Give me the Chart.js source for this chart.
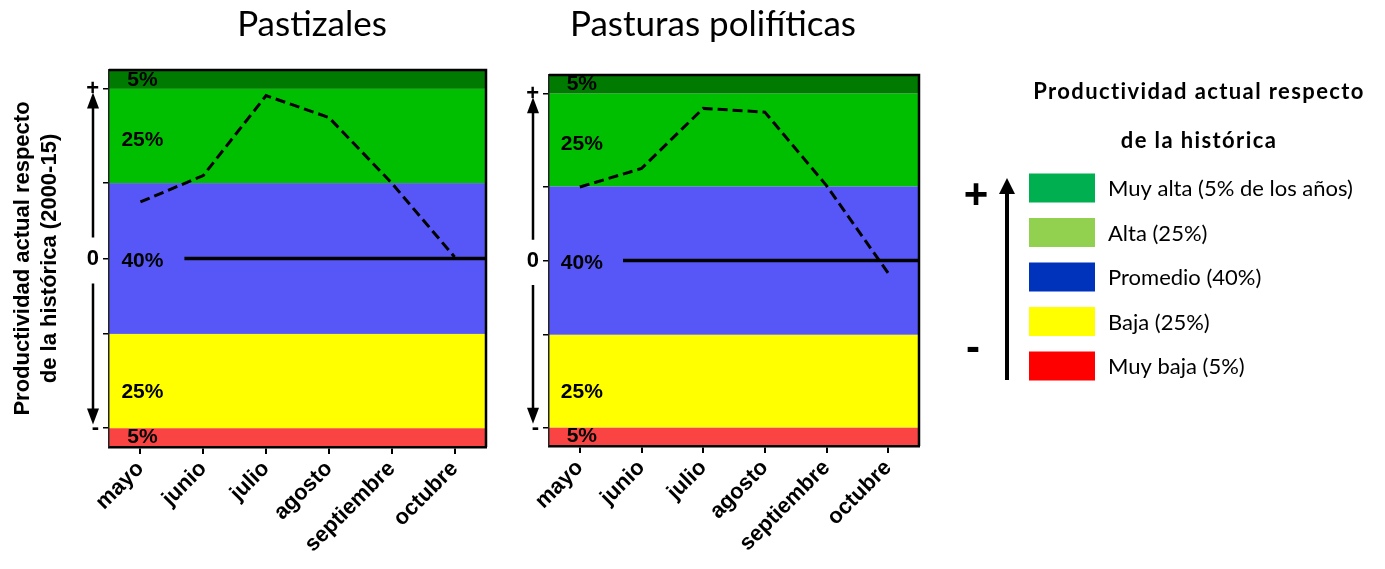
<!DOCTYPE html>
<html>
<head>
<meta charset="utf-8">
<script src="https://cdn.jsdelivr.net/npm/chart.js@4"></script>
<style>
  body { margin: 0; background: #fff; width: 1385px; height: 569px; overflow: hidden; position: relative; }
  canvas { position: absolute; top: 0; }
  #pastizales { left: 0; }
  #polifiticas { left: 500px; }
</style>
</head>
<body>
<canvas id="pastizales" width="500" height="569"></canvas>
<canvas id="polifiticas" width="885" height="569"></canvas>
<script>
// datos
const months = ["mayo", "junio", "julio", "agosto", "septiembre", "octubre"];
const pastizalesValues = [0.75, 1.10, 2.16, 1.87, 1.00, 0.02];
const polifiticasValues = [0.99, 1.24, 2.05, 2.00, 1.01, -0.17];
const zeroLineFrom = 0.7;   // el promedio empieza entre mayo y junio
const zeroLineTo = 5.5;

const bandEdges = [-2.5, -2.25, -1, 1, 2.25, 2.5];
const bandColors = ["#fa4343", "#ffff00", "#5757f7", "#00bf00", "#007a00"];
const bandLabels = ["5%", "25%", "40%", "25%", "5%"];
const bandLabelValues = [-2.37, -1.77, -0.03, 1.57, 2.37];

const yTicks = [-2.25, -1, 0, 1, 2.25];
const yTickLabels = ["-", "", "0", "", "+"];

const legendTitle = ["Productividad actual respecto", "de la histórica"];
const legendLabels = ["Muy alta (5% de los años)", "Alta (25%)", "Promedio (40%)", "Baja (25%)", "Muy baja (5%)"];
const legendColors = ["#00b050", "#92d050", "#0033bb", "#ffff00", "#ff0000"];

const axisFont = { family: "Liberation Sans", size: 22, weight: "bold" };

const bandsPlugin = {
  id: "bands",
  beforeDraw(chart) {
    const { ctx, chartArea: a, scales: { y } } = chart;
    ctx.save();
    for (let i = 0; i < bandColors.length; i++) {
      const y0 = y.getPixelForValue(bandEdges[i]);
      const y1 = y.getPixelForValue(bandEdges[i + 1]);
      ctx.fillStyle = bandColors[i];
      ctx.fillRect(a.left, y1, a.right - a.left, y0 - y1);
    }
    ctx.restore();
  },
  beforeDatasetsDraw(chart) {
    const { ctx, scales: { x, y } } = chart;
    ctx.save();
    ctx.fillStyle = "#000";
    ctx.font = "bold 21px 'Liberation Sans'";
    ctx.textAlign = "center";
    ctx.textBaseline = "middle";
    const lx = x.getPixelForValue(0) + 2;
    bandLabels.forEach((t, i) => ctx.fillText(t, lx, y.getPixelForValue(bandLabelValues[i])));
    ctx.restore();
  },
  afterDraw(chart, args, opts) {
    const { ctx, chartArea: a, scales: { y } } = chart;
    ctx.save();
    // marco superior y derecho
    ctx.strokeStyle = "#000";
    ctx.lineWidth = 2.5;
    ctx.beginPath();
    ctx.moveTo(a.left, a.top);
    ctx.lineTo(a.right, a.top);
    ctx.lineTo(a.right, a.bottom);
    ctx.stroke();

    // flecha doble del eje
    const ax = a.left - 16;
    const top = y.getPixelForValue(2.2);
    const bot = y.getPixelForValue(-2.2);
    ctx.lineWidth = 2.5;
    ctx.beginPath();
    ctx.moveTo(ax, top + 12);
    ctx.lineTo(ax, y.getPixelForValue(0.28));
    ctx.moveTo(ax, y.getPixelForValue(-0.33));
    ctx.lineTo(ax, bot - 12);
    ctx.stroke();
    ctx.fillStyle = "#000";
    ctx.beginPath();
    ctx.moveTo(ax, top); ctx.lineTo(ax - 6, top + 16); ctx.lineTo(ax + 6, top + 16); ctx.closePath();
    ctx.moveTo(ax, bot); ctx.lineTo(ax - 6, bot - 16); ctx.lineTo(ax + 6, bot - 16); ctx.closePath();
    ctx.fill();

    // título del gráfico
    ctx.font = "35px Lato";
    ctx.textAlign = "center";
    ctx.textBaseline = "middle";
    ctx.fillText(opts.title, opts.titleX, 25);
    ctx.restore();
  }
};

const legendPlugin = {
  id: "sideLegend",
  afterDraw(chart) {
    const ctx = chart.ctx;
    const cx = 699;
    ctx.save();
    ctx.fillStyle = "#000";
    ctx.textBaseline = "middle";
    ctx.textAlign = "center";
    ctx.font = "bold 22px Lato";
    ctx.letterSpacing = "1.4px";
    ctx.fillText(legendTitle[0], cx, 92);
    ctx.fillText(legendTitle[1], cx, 141);
    ctx.letterSpacing = "0px";

    ctx.textAlign = "left";
    ctx.font = "22px Lato";
    legendLabels.forEach((t, i) => {
      const yc = 188 + i * 44.5;
      ctx.fillStyle = legendColors[i];
      ctx.fillRect(529, yc - 14.5, 66, 29);
      ctx.fillStyle = "#000";
      ctx.fillText(t, 608, yc + 1);
    });

    // flecha vertical con + y -
    ctx.strokeStyle = "#000";
    ctx.lineWidth = 4;
    ctx.beginPath();
    ctx.moveTo(507, 380);
    ctx.lineTo(507, 190);
    ctx.stroke();
    ctx.beginPath();
    ctx.moveTo(507, 178); ctx.lineTo(499, 194); ctx.lineTo(515, 194); ctx.closePath();
    ctx.fill();
    ctx.font = "bold 42px 'Liberation Sans'";
    ctx.textAlign = "center";
    ctx.fillText("+", 476, 196);
    ctx.fillText("-", 473, 349);
    ctx.restore();
  }
};

function makeChart(id, values, o) {
  return new Chart(document.getElementById(id), {
    type: "line",
    data: {
      labels: months,
      datasets: [
        {
          data: values,
          borderColor: "#000",
          borderWidth: 3,
          borderDash: [10, 5],
          pointRadius: 0,
          fill: false,
          tension: 0
        },
        {
          data: [{ x: zeroLineFrom, y: 0 }, { x: zeroLineTo, y: 0 }],
          xAxisID: "x2",
          borderColor: "#000",
          borderWidth: 3.5,
          pointRadius: 0,
          fill: false
        }
      ]
    },
    options: {
      responsive: false,
      animation: false,
      devicePixelRatio: 1,
      layout: { padding: { top: o.top, right: o.right, left: 0, bottom: 0 } },
      plugins: {
        legend: { display: false },
        tooltip: { enabled: false },
        bands: { title: o.title, titleX: o.titleX }
      },
      scales: {
        x: {
          type: "category",
          offset: true,
          grid: { display: true, drawOnChartArea: false, drawTicks: true, tickLength: 7, color: "#000", lineWidth: 2 },
          border: { display: true, color: "#000", width: 2.5 },
          ticks: { color: "#000", font: axisFont, minRotation: 45, maxRotation: 45, padding: 2, autoSkip: false },
          afterFit: s => { s.height = o.xHeight; }
        },
        x2: { type: "linear", min: -0.5, max: 5.5, display: false },
        y: {
          type: "linear",
          min: -2.5,
          max: 2.5,
          afterBuildTicks: s => { s.ticks = yTicks.map(v => ({ value: v })); },
          ticks: {
            color: "#000",
            font: axisFont,
            padding: 4,
            autoSkip: false,
            callback: v => yTickLabels[yTicks.indexOf(v)]
          },
          grid: { display: true, drawOnChartArea: false, tickLength: 6, color: "#000", lineWidth: 1.5 },
          border: { display: true, color: "#222", width: 1.5 },
          title: {
            display: o.yTitle,
            text: ["Productividad actual respecto", "de la histórica (2000-15)"],
            color: "#000",
            font: { family: "Liberation Sans", size: 22, weight: "bold", lineHeight: "27px" },
            padding: { top: 9, bottom: 0 }
          },
          afterFit: s => { s.width = o.yWidth; }
        }
      }
    },
    plugins: o.legend ? [bandsPlugin, legendPlugin] : [bandsPlugin]
  });
}

makeChart("pastizales", pastizalesValues, {
  top: 70, right: 14, xHeight: 122, yWidth: 109, yTitle: true,
  title: "Pastizales", titleX: 312, legend: false
});
makeChart("polifiticas", polifiticasValues, {
  top: 75, right: 466, xHeight: 123, yWidth: 49, yTitle: false,
  title: "Pasturas polifíticas", titleX: 213, legend: true
});
</script>
</body>
</html>
